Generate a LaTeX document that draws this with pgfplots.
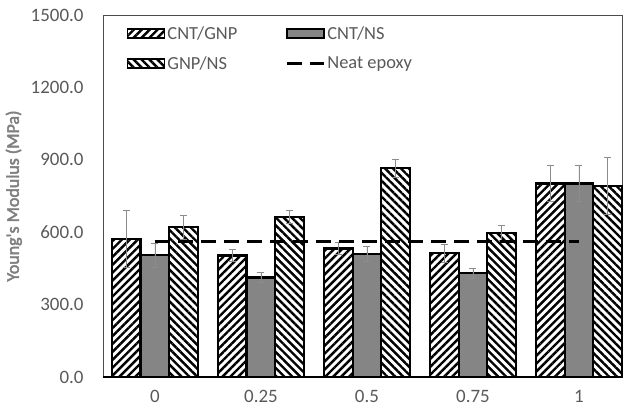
\documentclass[border=0pt]{standalone}
\usepackage{pgfplots}
\pgfplotsset{compat=1.18}
\usepackage{fontspec}
\setmainfont{Carlito}
\newfontfamily\labfont[FakeBold=2.5]{Carlito}
\usetikzlibrary{patterns,patterns.meta}
\definecolor{txt}{HTML}{595959}
\definecolor{lab}{HTML}{7F7F7F}
\pgfplotsset{
  barleg/.style={legend image code/.code={\draw[##1, line width=1.4pt] (0bp,-4.5bp) rectangle (37bp,4.5bp);}},
  lineleg/.style={legend image code/.code={\draw[##1] (0bp,0bp) -- (37bp,0bp);}},
  myerr/.style={error bars/.cd, y dir=both, y explicit,
    error bar style={black!45, line width=0.8pt},
    error mark options={rotate=90, black!45, mark size=3.5bp, line width=0.8pt}},
}
\begin{document}
\begin{tikzpicture}
\begin{axis}[
  at={(103bp,32bp)}, anchor=south west,
  scale only axis, width=519bp, height=362bp,
  xmin=-0.49, xmax=4.406, ymin=0, ymax=1500,
  xtick={0,1,2,3,4}, xticklabels={0,0.25,0.5,0.75,1},
  ytick={0,300,600,900,1200,1500},
  yticklabel={\pgfmathprintnumber[fixed,fixed zerofill,precision=1,1000 sep={}]{\tick}},
  /pgf/number format/assume math mode=true,
  tick style={draw=none},
  axis line style={draw=black!70, line width=0.6pt},
  tick label style={font=\fontsize{19}{22}\selectfont, text=txt},
  xticklabel style={yshift=-10bp},
  yticklabel style={xshift=-16bp},
  ylabel={Young's Modulus (MPa)},
  ylabel style={font=\labfont\fontsize{18}{21}\selectfont, text=lab, yshift=2bp},
  legend columns=2,
  legend style={draw=none, fill=none, at={(rel axis cs:0.046,0.975)}, anchor=north west,
    font=\fontsize{18.5}{21}\selectfont, text=txt, row sep=12bp, inner sep=0pt,
    /tikz/every even column/.append style={column sep=46bp}},
  legend cell align=left,
  clip=false,
]
\draw[black, line width=2.2pt] (axis cs:-0.49,0) -- (axis cs:4.406,0);
\addplot[ybar, bar width=28.5bp, bar shift=0bp, draw=black, line width=2.4pt,
  pattern={Lines[angle=45,distance=5.6bp,line width=2.4bp]}, barleg, myerr]
coordinates {(-0.2689,572) +- (0,117) (0.7311,503) +- (0,26) (1.7311,533) +- (0,25) (2.7311,513) +- (0,38) (3.7311,802) +- (0,75)};
\addlegendentry{CNT/GNP}
\addplot[ybar, bar width=28.5bp, bar shift=0bp, draw=black, line width=2.4pt,
  preaction={fill=black!38}, pattern={Dots[distance=2bp,radius=0.6bp]}, pattern color=black!80, barleg, myerr]
coordinates {(0,505) +- (0,50) (1,413) +- (0,22) (2,510) +- (0,32) (3,430) +- (0,20) (4,802) +- (0,75)};
\addlegendentry{CNT/NS}
\addplot[ybar, bar width=28.5bp, bar shift=0bp, draw=black, line width=2.4pt,
  pattern={Lines[angle=-45,distance=5.6bp,line width=2.4bp]}, barleg, myerr]
coordinates {(0.2689,621) +- (0,49) (1.2689,663) +- (0,26) (2.2689,865) +- (0,37) (3.2689,596) +- (0,31) (4.2689,792) +- (0,118)};
\addlegendentry{GNP/NS}
\addplot[black, line width=3bp, dash pattern=on 15bp off 8bp, lineleg]
coordinates {(0,560) (1,560) (2,560) (3,560) (4,560)};
\addlegendentry{Neat epoxy}
\end{axis}
\pgfresetboundingbox
\path (0,0) rectangle (623bp,409bp);
\end{tikzpicture}
\end{document}
